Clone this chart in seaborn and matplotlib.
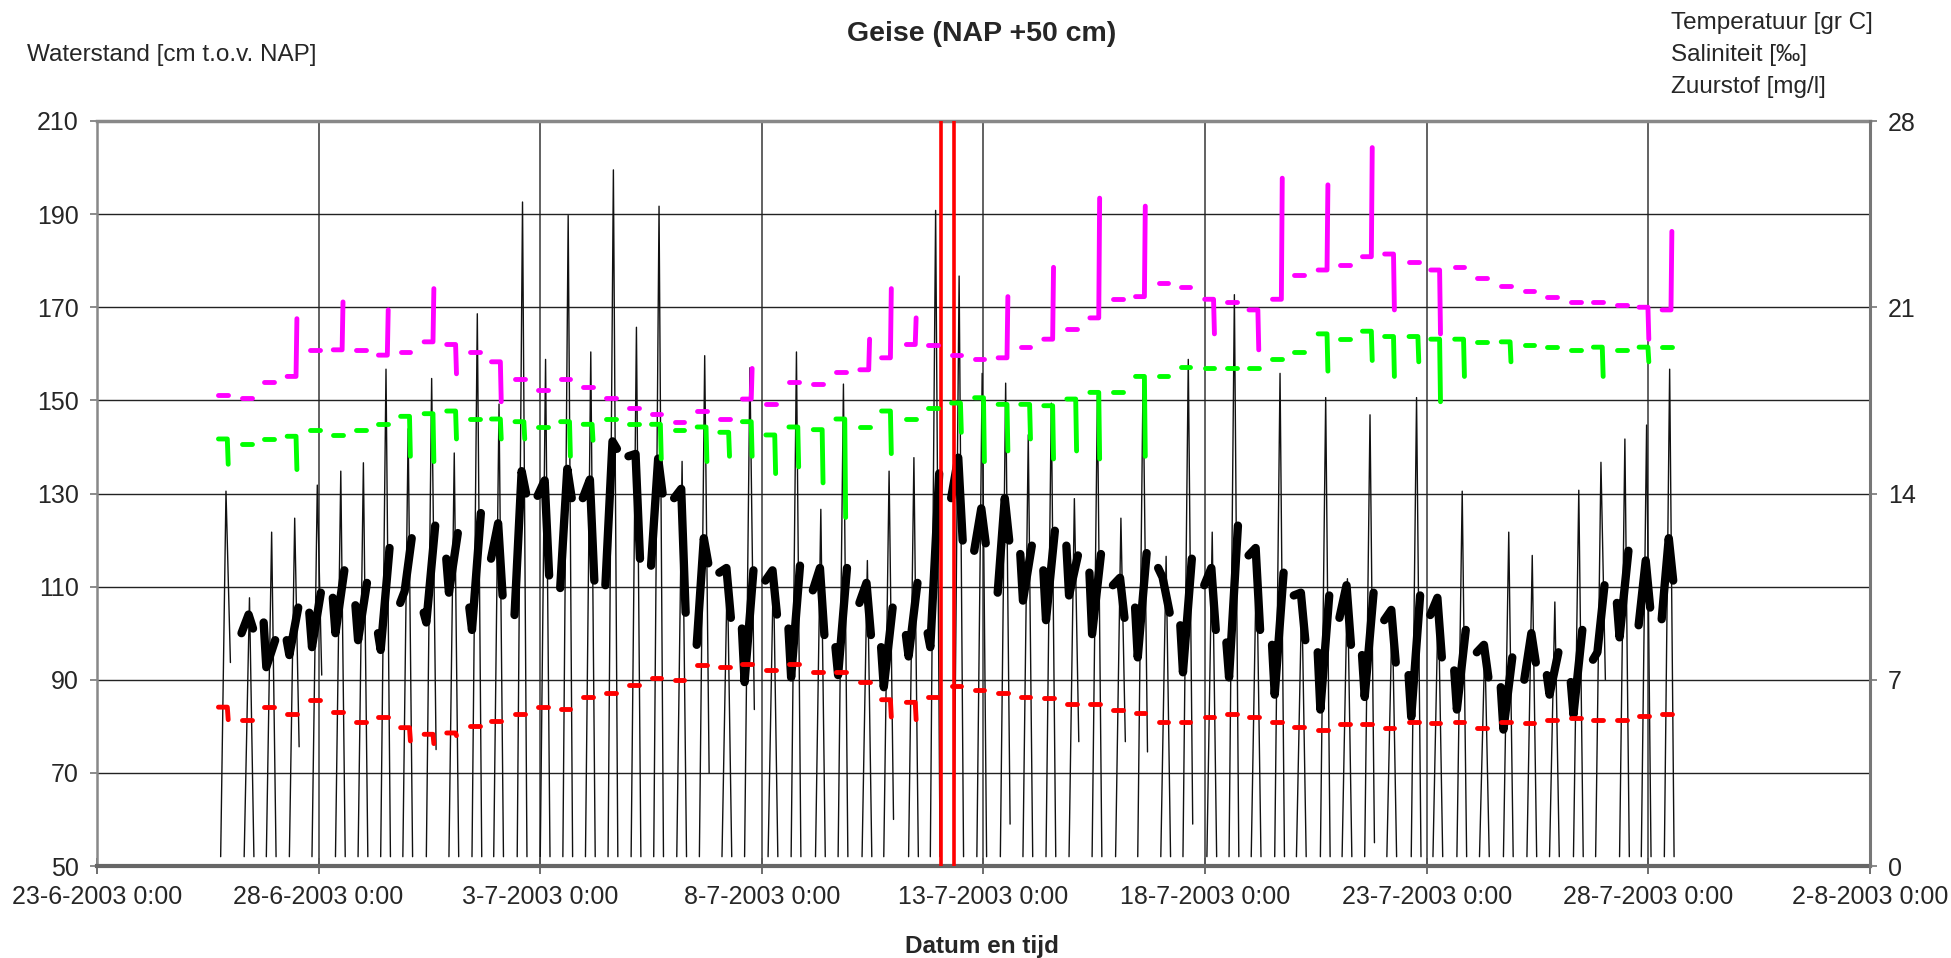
import numpy as np
import pandas as pd
import matplotlib
matplotlib.use("Agg")
import matplotlib.pyplot as plt
import seaborn as sns

sns.set_style("white")
plt.rcParams["font.family"] = ["Liberation Sans", "DejaVu Sans"]

# ---------------- data ----------------
START = pd.Timestamp("2003-06-23 00:00")

# time of each high tide, days after 23-6-2003 0:00
tide_day = [2.91, 3.44, 3.94, 4.46, 4.97, 5.50, 6.01, 6.52, 7.02, 7.55,
            8.06, 8.58, 9.07, 9.60, 10.12, 10.63, 11.14, 11.65, 12.17, 12.68,
            13.20, 13.71, 14.22, 14.73, 15.26, 15.78, 16.33, 16.84, 17.38, 17.87,
            18.43, 18.92, 19.45, 19.97, 20.50, 21.01, 21.53, 22.05, 22.57, 23.10,
            23.60, 24.12, 24.62, 25.16, 25.66, 26.16, 26.69, 27.18, 27.72, 28.21,
            28.72, 29.22, 29.77, 30.26, 30.80, 31.31, 31.85, 32.38, 32.89, 33.43,
            33.93, 34.47, 34.96, 35.48]

# thin black line: water level peak per tide [cm NAP]
peak_wl = [130.5, 107.6, 121.7, 124.7, 131.8, 134.8, 136.6, 156.7, 143.9, 154.7,
           138.7, 168.6, 149.2, 192.6, 158.8, 189.7, 160.4, 199.5, 165.7, 191.7,
           136.9, 159.6, 114.0, 157.0, 114.0, 160.4, 126.6, 153.5, 115.6, 134.8,
           137.7, 190.8, 176.7, 155.8, 153.7, 142.6, 149.4, 128.9, 151.0, 124.7,
           155.0, 116.5, 158.8, 121.7, 172.7, 117.7, 155.8, 108.7, 150.6, 111.7,
           146.9, 105.5, 150.6, 108.0, 130.5, 97.7, 121.7, 116.7, 106.7, 130.7,
           136.7, 141.7, 144.7, 156.7]
thin_floor = 52.0
thin_end = [93.7, 52, 52, 75.6, 91, 52, 52, 52, 52, 75,
            52, 52, 52, 52, 52, 52, 52, 52, 52, 52,
            52, 70, 52, 83.6, 52, 52, 52, 52, 52, 60,
            52, 52, 52, 52, 59, 52, 52, 76.7, 52, 76.7,
            74.5, 52, 59, 52, 52, 52, 52, 52, 52, 52,
            55, 52, 52, 52, 52, 52, 52, 52, 52, 52,
            90, 52, 52, 52]

# thick black series: start / extreme / end value per tide [cm NAP]
thick_start = [np.nan, 100, 102.3, 98.5, 104.4, 107.6, 106, 100, 106.5, 104.4,
               116, 105.5, 116, 103.9, 129.5, 109.7, 129, 110.3, 138, 114.5,
               129, 97.5, 113, 101, 111.3, 101, 109.2, 97, 106.5, 97,
               99.6, 100, 129, 117.7, 108.7, 117, 113.5, 118.8, 113, 110.3,
               105.5, 114, 101.7, 110.3, 98, 116.7, 97.5, 108.1, 95.9, 103.3,
               95.3, 102.8, 91, 103.9, 92, 95.9, 88.4, 90, 91, 89.5,
               94.3, 106.5, 101.7, 103]
thick_ext = [np.nan, 104, 92.7, 95.3, 97, 100, 98.5, 96.4, 109, 102.3,
             108.7, 100.7, 123.6, 134.8, 132.8, 135.3, 133, 141.2, 138.5, 137.5,
             131, 120.4, 114, 89.5, 113.5, 90.5, 114, 91, 110.8, 88.4,
             95, 97, 137.7, 126.8, 129, 107, 102.8, 108.1, 99.8, 111.9,
             94.8, 112, 91.6, 114, 90.5, 118.3, 86.8, 108.7, 83.6, 110.3,
             86.3, 105, 82, 107.6, 83.6, 97.5, 79.3, 100, 86.8, 82.5,
             95.9, 99.1, 115.6, 120.4]
thick_end = [np.nan, 101, 98.5, 105.5, 108.7, 113.5, 110.8, 118.3, 120.4, 123.1,
             121.5, 125.8, 108.1, 130, 112.4, 129, 111.3, 139.6, 116, 130,
             104.4, 115, 103.3, 113.5, 104, 114.5, 99.6, 114, 99.6, 105.5,
             110.8, 134.3, 119.9, 119.3, 119.9, 118.8, 122, 116.7, 117, 103.3,
             117.2, 104.4, 116, 100.7, 123.1, 100.7, 113, 98.5, 108.1, 97.5,
             108.7, 93.7, 108.1, 94.8, 100.7, 90.5, 94.8, 93.7, 95.9, 100.7,
             110.3, 117.7, 105.5, 111.3]

# temperature [gr C] per tide and value at the end of the submerged period
temp = [17.7, 17.6, 18.2, 18.4, 19.4, 19.4, 19.4, 19.2, 19.3, 19.7,
        19.6, 19.3, 18.95, 18.3, 17.9, 18.3, 18.0, 17.6, 17.2, 17.0,
        16.7, 17.1, 16.8, 17.55, 17.35, 18.2, 18.1, 18.55, 18.65, 19.1,
        19.6, 19.6, 19.2, 19.05, 19.1, 19.5, 19.8, 20.2, 20.6, 21.3,
        21.4, 21.9, 21.75, 21.3, 21.2, 20.9, 21.3, 22.2, 22.4, 22.6,
        22.9, 23.0, 22.7, 22.4, 22.5, 22.1, 21.8, 21.6, 21.4, 21.2,
        21.2, 21.1, 21.0, 20.9]
temp_end = [17.7, 17.6, 18.2, 20.57, 19.4, 21.2, 19.4, 20.9, 19.3, 21.7,
            18.5, 19.3, 17.45, 18.3, 17.9, 18.3, 18.0, 17.6, 17.2, 17.0,
            16.7, 17.1, 16.8, 18.7, 17.35, 18.2, 18.1, 18.55, 19.8, 21.7,
            20.6, 19.6, 19.2, 19.05, 21.4, 19.5, 22.5, 20.2, 25.1, 21.3,
            24.8, 21.9, 21.75, 20.0, 21.2, 19.4, 25.85, 22.2, 25.6, 22.6,
            27.0, 20.9, 22.7, 20.0, 22.5, 22.1, 21.8, 21.6, 21.4, 21.2,
            21.2, 21.1, 19.8, 23.85]

# salinity [promille]
sal = [16.05, 15.87, 16.05, 16.15, 16.4, 16.2, 16.4, 16.6, 16.9, 17.0,
       17.1, 16.8, 16.8, 16.7, 16.5, 16.7, 16.6, 16.8, 16.6, 16.6,
       16.4, 16.5, 16.3, 16.7, 16.2, 16.5, 16.4, 16.8, 16.5, 17.1,
       16.8, 17.2, 17.4, 17.6, 17.35, 17.35, 17.3, 17.55, 17.8, 17.8,
       18.4, 18.4, 18.75, 18.7, 18.7, 18.7, 19.05, 19.3, 20.0, 19.8,
       20.1, 19.9, 19.9, 19.8, 19.8, 19.7, 19.7, 19.6, 19.5, 19.4,
       19.5, 19.4, 19.5, 19.5]
sal_end = [15.1, 15.87, 16.05, 14.9, 16.4, 16.2, 16.4, 16.6, 15.4, 15.2,
           16.05, 16.8, 16.05, 16.05, 16.5, 15.4, 16.0, 16.8, 16.6, 15.3,
           16.4, 15.2, 15.4, 15.4, 14.75, 15.0, 14.4, 13.1, 16.5, 15.5,
           16.8, 17.2, 16.3, 15.2, 15.6, 16.05, 15.3, 15.6, 15.3, 17.8,
           15.4, 18.4, 18.75, 18.7, 18.7, 18.7, 19.05, 19.3, 18.6, 19.8,
           19.0, 18.4, 18.95, 17.45, 18.4, 19.7, 18.95, 19.6, 19.5, 19.4,
           18.4, 19.4, 18.95, 19.5]

# dissolved oxygen [mg/l]
oxy = [5.97, 5.5, 5.97, 5.7, 6.25, 5.8, 5.4, 5.6, 5.2, 4.95,
       5.0, 5.25, 5.45, 5.7, 5.97, 5.9, 6.35, 6.5, 6.8, 7.06,
       7.0, 7.56, 7.47, 7.6, 7.37, 7.6, 7.3, 7.28, 6.9, 6.25,
       6.15, 6.35, 6.75, 6.6, 6.5, 6.35, 6.3, 6.1, 6.1, 5.88,
       5.75, 5.41, 5.41, 5.6, 5.7, 5.6, 5.41, 5.23, 5.13, 5.32,
       5.32, 5.2, 5.41, 5.38, 5.41, 5.2, 5.41, 5.38, 5.5, 5.56,
       5.5, 5.5, 5.64, 5.7]
oxy_end = [5.5, 5.5, 5.97, 5.7, 6.25, 5.8, 5.4, 5.6, 4.7, 4.6,
           4.9, 5.25, 5.45, 5.7, 5.97, 5.9, 6.35, 6.5, 6.8, 7.06,
           7.0, 7.56, 7.47, 7.6, 7.37, 7.6, 7.3, 7.28, 6.9, 5.6,
           5.5, 6.35, 6.75, 6.6, 6.5, 6.35, 6.3, 6.1, 6.1, 5.88,
           5.75, 5.41, 5.41, 5.6, 5.7, 5.6, 5.41, 5.23, 5.13, 5.32,
           5.32, 5.2, 5.41, 5.38, 5.41, 5.2, 5.41, 5.38, 5.5, 5.56,
           5.5, 5.5, 5.64, 5.7]

# red marker lines (days after start)
marker_days = [19.05, 19.33]

xtick_labels = ["23-6-2003 0:00", "28-6-2003 0:00", "3-7-2003 0:00", "8-7-2003 0:00",
                "13-7-2003 0:00", "18-7-2003 0:00", "23-7-2003 0:00", "28-7-2003 0:00",
                "2-8-2003 0:00"]
left_ticks = [50, 70, 90, 110, 130, 150, 170, 190, 210]
right_ticks = [0, 7, 14, 21, 28]
right_labels = ["Temperatuur [gr C]", "Saliniteit [\u2030]", "Zuurstof [mg/l]"]

# ---------------- build long tables ----------------
def to_time(d):
    return START + pd.to_timedelta(np.asarray(d, dtype=float), unit="D")

thin_rows = []
for i, (tp, pk, le) in enumerate(zip(tide_day, peak_wl, thin_end)):
    thin_rows += [(i, tp - 0.12, thin_floor), (i, tp, pk), (i, tp + 0.10, le)]
thin = pd.DataFrame(thin_rows, columns=["tide", "day", "v"])
thin["t"] = to_time(thin["day"])

thick_rows = []
for i, (tp, a, b, c) in enumerate(zip(tide_day, thick_start, thick_ext, thick_end)):
    if np.isnan(a):
        continue
    if b > max(a, c):
        dm = -0.02
    elif b < min(a, c):
        dm = -0.12
    else:
        dm = -0.08
    thick_rows += [(i, tp - 0.18, a), (i, tp + dm, b), (i, tp + 0.08, c)]
thick = pd.DataFrame(thick_rows, columns=["tide", "day", "v"])
thick["t"] = to_time(thick["day"])


def param_table(base, end):
    rows = []
    for i, (tp, b, e) in enumerate(zip(tide_day, base, end)):
        rows += [(i, tp - 0.17, b), (i, tp + 0.03, b), (i, tp + 0.05, e)]
    df = pd.DataFrame(rows, columns=["tide", "day", "v"])
    df["t"] = to_time(df["day"])
    return df


temp_df = param_table(temp, temp_end)
sal_df = param_table(sal, sal_end)
oxy_df = param_table(oxy, oxy_end)

# ---------------- figure ----------------
W, H = 1951, 958
fig = plt.figure(figsize=(W / 100, H / 100), dpi=100)
L, R, T, B = 97, 1870, 121, 866
ax = fig.add_axes([L / W, 1 - B / H, (R - L) / W, (B - T) / H])
ax2 = ax.twinx()

sns.lineplot(data=thin, x="t", y="v", units="tide", estimator=None, sort=False,
             color="#111111", linewidth=1.0, legend=False, ax=ax)
sns.lineplot(data=thick, x="t", y="v", units="tide", estimator=None, sort=False,
             color="black", linewidth=6.0, legend=False, ax=ax)

for d in marker_days:
    ax.axvline(to_time([d])[0], color="#FF0000", linewidth=2.6, zorder=4)

for df, col in [(temp_df, "#FF00FF"), (sal_df, "#00FF00"), (oxy_df, "#FF0000")]:
    sns.lineplot(data=df, x="t", y="v", units="tide", estimator=None, sort=False,
                 color=col, linewidth=3.5, legend=False, ax=ax2)

# axes ranges / ticks
xt = to_time([0, 5, 10, 15, 20, 25, 30, 35, 40])
ax.set_xlim(xt[0], xt[-1])
ax.set_xticks(xt)
ax.set_xticklabels(xtick_labels)
ax.set_ylim(50, 210)
ax.set_yticks(left_ticks)
ax2.set_ylim(0, 28)
ax2.set_yticks(right_ticks)
for a in (ax, ax2):
    a.set_xlabel("")
    a.set_ylabel("")

ax.set_axisbelow(True)
ax.grid(True, axis="y", color="#222222", linewidth=1.0)
ax.grid(True, axis="x", color="#555555", linewidth=1.3)
ax2.grid(False)

ax.tick_params(axis="y", direction="out", length=5, width=1.2, color="#777777",
               labelsize=18, pad=8, left=True)
ax.tick_params(axis="x", direction="inout", length=12, width=1.2, color="#555555",
               labelsize=18, pad=8, bottom=True)
ax2.tick_params(axis="y", direction="out", length=5, width=1.2, color="#777777",
                labelsize=18, pad=8, right=True)

for name, sp in ax.spines.items():
    sp.set_visible(name in ("top", "bottom", "left"))
ax.spines["top"].set_color("#888888"); ax.spines["top"].set_linewidth(2.5)
ax.spines["bottom"].set_color("#666666"); ax.spines["bottom"].set_linewidth(3.0)
ax.spines["left"].set_color("#888888"); ax.spines["left"].set_linewidth(1.8)
for name, sp in ax2.spines.items():
    sp.set_visible(name == "right")
ax2.spines["right"].set_color("#777777"); ax2.spines["right"].set_linewidth(2.2)

# texts
fig.text(27 / W, 1 - 55 / H, "Waterstand [cm t.o.v. NAP]", ha="left", va="center", fontsize=17.5)
fig.text(982 / W, 1 - 34 / H, "Geise (NAP +50 cm)", ha="center", va="center",
         fontsize=20.5, fontweight="bold")
for j, s in enumerate(right_labels):
    fig.text(1671 / W, 1 - (23 + 32 * j) / H, s, ha="left", va="center", fontsize=17.5)
fig.text(982 / W, 1 - 946 / H, "Datum en tijd", ha="center", va="center",
         fontsize=17.5, fontweight="bold")

fig.savefig("out.png", dpi=100)
